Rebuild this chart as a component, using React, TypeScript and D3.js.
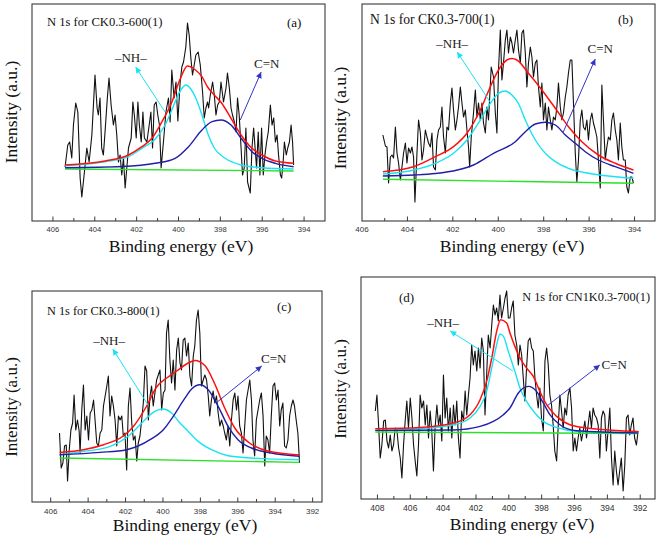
import React from 'react';
import * as d3 from 'd3';

type P = [number, number];

// ---------- Panel (a) CK0.3-600(1) ----------
const rawA: P[] = [
[405.42,54],[405.29,76],[405.20,79],[405.10,63],[405.02,96],[404.91,118],[404.81,109],[404.70,43],[404.62,24],[404.51,46],[404.38,73],[404.27,59],[404.14,86],[403.99,146],[403.89,113],[403.83,106],[403.75,123],[403.67,73],[403.59,66],[403.51,89],[403.40,123],[403.32,143],[403.22,116],[403.11,96],[403.03,106],[402.95,86],[402.87,59],[402.79,66],[402.71,46],[402.63,63],[402.55,33],[402.47,53],[402.39,73],[402.26,83],[402.18,119],[402.11,106],[402.02,83],[401.94,119],[401.87,96],[401.78,79],[401.70,109],[401.63,83],[401.51,79],[401.40,96],[401.32,109],[401.24,73],[401.16,116],[401.07,119],[400.99,106],[400.91,96],[400.83,53],[400.72,79],[400.60,109],[400.48,123],[400.40,99],[400.32,151],[400.21,123],[400.12,139],[400.03,100],[399.92,139],[399.84,154],[399.76,159],[399.65,174],[399.57,198],[399.49,186],[399.41,163],[399.33,146],[399.25,156],[399.17,166],[399.06,169],[398.96,156],[398.85,129],[398.77,103],[398.69,113],[398.61,119],[398.56,113],[398.48,126],[398.37,139],[398.29,126],[398.21,106],[398.13,116],[398.05,119],[397.97,139],[397.85,119],[397.73,133],[397.66,148],[397.57,133],[397.49,113],[397.42,106],[397.33,99],[397.25,89],[397.18,123],[397.10,106],[397.01,73],[396.94,46],[396.86,53],[396.78,93],[396.70,39],[396.57,28],[396.49,73],[396.41,93],[396.34,73],[396.27,53],[396.19,89],[396.11,46],[396.03,93],[395.95,46],[395.87,66],[395.79,79],[395.71,89],[395.61,116],[395.53,96],[395.45,103],[395.37,79],[395.29,86],[395.22,66],[395.13,46],[395.07,43],[395.00,59],[394.94,79],[394.85,66],[394.78,73],[394.70,79],[394.62,96],[394.55,79],[394.50,56]
];
const baseA: P[] = [[405.42,52],[394.5,50]];
const blueA: P[] = [[405.42,53.3],[402.71,54.5],[401.11,57.7],[400.16,62.7],[399.52,74.3],[398.88,91],[398.4,99.3],[397.97,101],[397.49,96],[397.01,82.7],[396.49,69.3],[396.01,62.7],[395.37,57.7],[394.5,54.3]];
const cyanA: P[] = [[405.42,55.3],[403.51,59.3],[402.39,64.3],[401.75,72.7],[401.11,82],[400.64,96],[400.32,111],[399.92,130],[399.65,136],[399.41,132],[399.17,122.7],[398.88,106],[398.61,88],[398.29,73],[397.77,62.7],[397.01,56],[396.01,53.3],[394.5,52]];
const redA: P[] = [[405.42,56],[403.51,60],[402.39,66],[401.75,74.3],[401.27,82.7],[400.79,99.3],[400.32,118.7],[399.92,142],[399.57,155],[399.25,152],[398.88,144.3],[398.61,134],[398.29,126],[397.97,118.7],[397.49,102.7],[397.01,86],[396.49,72.7],[396.01,66],[395.37,60],[394.5,57.7]];

// ---------- Panel (b) CK0.3-700(1) ----------
const rawB: P[] = [
[405.08,86],[404.97,75],[404.90,74],[404.83,38],[404.75,64],[404.68,66],[404.61,63],[404.53,94],[404.46,68],[404.39,58],[404.31,41],[404.24,54],[404.17,68],[404.09,78],[404.02,58],[403.95,73],[403.87,68],[403.80,74],[403.73,64],[403.67,19],[403.58,68],[403.51,101],[403.43,88],[403.36,61],[403.29,71],[403.21,91],[403.14,84],[403.07,78],[402.99,74],[402.92,88],[402.85,54],[402.77,51],[402.70,81],[402.63,91],[402.55,94],[402.48,114],[402.41,84],[402.33,68],[402.26,94],[402.19,91],[402.11,118],[402.04,133],[401.97,111],[401.89,91],[401.82,101],[401.75,114],[401.67,134],[401.60,118],[401.53,104],[401.45,111],[401.38,91],[401.31,74],[401.26,54],[401.19,84],[401.09,108],[401.01,131],[400.94,104],[400.87,118],[400.79,101],[400.72,118],[400.65,98],[400.57,88],[400.50,114],[400.43,101],[400.31,154],[400.21,144],[400.13,108],[400.06,88],[399.99,151],[399.91,191],[399.84,141],[399.77,158],[399.69,181],[399.62,191],[399.55,168],[399.47,184],[399.40,178],[399.33,168],[399.25,181],[399.18,191],[399.11,171],[399.03,158],[398.96,188],[398.89,191],[398.81,168],[398.74,134],[398.67,158],[398.59,174],[398.52,164],[398.45,144],[398.37,158],[398.30,161],[398.23,134],[398.15,114],[398.08,138],[398.01,101],[397.93,118],[397.86,91],[397.79,114],[397.71,101],[397.64,91],[397.57,104],[397.49,101],[397.42,114],[397.35,138],[397.27,114],[397.20,101],[397.13,108],[397.05,124],[396.98,134],[396.91,148],[396.83,161],[396.76,161],[396.69,118],[396.61,68],[396.54,39],[396.47,61],[396.39,101],[396.32,111],[396.25,94],[396.17,91],[396.10,101],[396.03,81],[395.95,101],[395.88,108],[395.81,98],[395.73,91],[395.66,84],[395.59,61],[395.51,33],[395.44,136],[395.37,101],[395.29,61],[395.22,74],[395.15,84],[395.07,81],[395.00,101],[394.93,108],[394.85,91],[394.78,81],[394.71,61],[394.63,98],[394.56,74],[394.49,61],[394.41,61],[394.34,34],[394.27,28],[394.19,44],[394.12,44],[394.05,38]
];
const baseB: P[] = [[405.08,41.7],[394.05,37.7]];
const blueB: P[] = [[405.08,45],[403.7,46],[402.77,47.5],[401.8,51],[401.09,56],[400.21,67.7],[399.25,79.3],[398.81,89.3],[398.37,97],[397.93,98.7],[397.49,96],[397.05,86],[396.61,77.7],[396.17,69.3],[395.59,61],[394.85,54.3],[394.05,47.7]];
const cyanB: P[] = [[405.08,47],[403.73,51],[402.77,57.7],[401.97,67.7],[401.38,81],[400.79,101],[400.35,117.7],[399.99,127.7],[399.69,130],[399.40,126],[399.1,117],[398.81,101],[398.37,81],[397.93,67.7],[397.49,59.3],[396.91,52.7],[396.03,47.7],[394.85,44.3],[394.05,42.7]];
const redB: P[] = [[405.08,49.3],[403.73,54.3],[402.77,64.3],[401.97,74.3],[401.38,87.7],[400.79,111],[400.35,134.3],[399.99,151],[399.62,161],[399.40,162.5],[399.18,161],[398.67,147.7],[398.08,131],[397.49,112.7],[396.91,94.3],[396.32,79.3],[395.59,66],[394.85,57.7],[394.05,51]];

// ---------- Panel (c) CK0.3-800(1) ----------
const rawC: P[] = [
[405.53,69],[405.44,34],[405.35,39],[405.26,56],[405.17,57],[405.10,21],[405.01,52],[404.92,72],[404.83,79],[404.75,107],[404.66,72],[404.57,82],[404.48,71],[404.43,49],[404.34,92],[404.25,117],[404.16,72],[404.07,86],[403.98,62],[403.89,89],[403.80,92],[403.71,102],[403.63,82],[403.54,59],[403.45,56],[403.36,69],[403.27,72],[403.18,96],[403.09,106],[403.00,116],[402.92,126],[402.83,86],[402.74,106],[402.65,96],[402.56,82],[402.47,56],[402.38,86],[402.29,82],[402.20,86],[402.12,66],[402.03,69],[401.94,32],[401.85,96],[401.76,114],[401.67,79],[401.58,62],[401.49,66],[401.40,41],[401.32,59],[401.23,66],[401.14,82],[401.05,99],[400.96,136],[400.87,131],[400.78,82],[400.69,106],[400.61,116],[400.52,96],[400.43,109],[400.34,122],[400.25,127],[400.16,132],[400.07,92],[399.98,109],[399.89,112],[399.81,169],[399.72,182],[399.63,142],[399.54,119],[399.45,142],[399.36,112],[399.27,152],[399.18,164],[399.09,139],[399.01,132],[398.92,162],[398.83,164],[398.74,146],[398.65,159],[398.56,126],[398.47,116],[398.38,146],[398.30,156],[398.21,182],[398.12,192],[398.03,169],[397.94,116],[397.85,122],[397.76,127],[397.67,122],[397.58,106],[397.50,86],[397.41,102],[397.32,111],[397.23,99],[397.14,106],[397.05,89],[396.96,76],[396.87,82],[396.78,76],[396.70,69],[396.61,62],[396.52,76],[396.43,56],[396.34,82],[396.25,102],[396.16,109],[396.07,92],[395.99,106],[395.90,76],[395.81,69],[395.72,49],[395.63,76],[395.54,102],[395.45,112],[395.36,122],[395.27,102],[395.19,62],[395.10,46],[395.01,82],[394.92,92],[394.83,102],[394.74,109],[394.65,86],[394.56,36],[394.48,66],[394.39,62],[394.30,49],[394.21,86],[394.12,116],[394.03,119],[393.94,102],[393.85,112],[393.76,76],[393.68,92],[393.59,99],[393.50,56],[393.41,54],[393.32,62],[393.23,86],[393.14,96],[393.05,102],[392.97,96],[392.88,82],[392.79,69],[392.70,39]
];
const baseC: P[] = [[405.53,44],[392.70,39.6]];
const blueC: P[] = [[405.53,47.3],[403.36,49.6],[401.94,52.3],[400.69,62.3],[399.98,72.3],[399.45,85.7],[398.88,102.3],[398.47,113],[398.03,117.3],[397.58,112.3],[397.05,95.7],[396.52,75.7],[395.99,62.3],[395.27,54],[394.21,49],[392.70,45.7]];
const cyanC: P[] = [[405.53,47.3],[404.25,50.6],[402.83,55.7],[401.76,67.3],[401.05,80.6],[400.52,89.6],[400.0,93],[399.54,89],[399.09,79],[398.65,70.6],[398.12,60.6],[397.41,52.3],[396.52,46.3],[395.27,44],[392.70,42.3]];
const redC: P[] = [[405.53,49.6],[404.25,52.3],[403.18,57.3],[402.12,66],[401.58,75.6],[400.87,96],[400.34,115],[399.80,124],[399.27,131],[398.74,138],[398.30,141.6],[397.76,136.5],[397.23,118],[396.70,94],[396.16,74],[395.45,60],[394.39,51],[392.70,47]];

// ---------- Panel (d) CN1K0.3-700(1) ----------
const rawD: P[] = [
[408.13,88],[408.03,104],[407.93,74],[407.83,41],[407.73,54],[407.62,78],[407.52,79],[407.42,58],[407.32,51],[407.22,64],[407.12,48],[407.02,54],[406.92,71],[406.81,68],[406.71,51],[406.61,41],[406.51,21],[406.41,54],[406.31,78],[406.21,98],[406.11,71],[406.00,101],[405.90,81],[405.80,54],[405.70,38],[405.60,23],[405.50,54],[405.40,104],[405.30,91],[405.19,98],[405.09,74],[404.99,94],[404.89,61],[404.79,88],[404.69,68],[404.59,28],[404.49,71],[404.38,94],[404.28,74],[404.18,84],[404.08,58],[403.98,124],[403.88,81],[403.78,101],[403.68,68],[403.57,91],[403.47,61],[403.37,94],[403.27,74],[403.17,98],[403.07,61],[402.97,41],[402.87,88],[402.76,78],[402.66,108],[402.56,84],[402.46,104],[402.36,121],[402.26,154],[402.16,134],[402.06,148],[401.95,128],[401.85,151],[401.75,131],[401.65,161],[401.55,148],[401.45,84],[401.35,124],[401.25,164],[401.14,151],[401.04,174],[400.94,194],[400.84,184],[400.74,191],[400.64,178],[400.54,204],[400.44,181],[400.33,191],[400.23,201],[400.13,208],[400.03,181],[399.93,181],[399.83,191],[399.73,198],[399.63,164],[399.52,154],[399.42,134],[399.32,154],[399.22,144],[399.12,121],[399.02,98],[398.92,131],[398.82,158],[398.71,161],[398.61,151],[398.51,148],[398.41,121],[398.31,104],[398.21,91],[398.11,111],[398.01,81],[397.90,68],[397.80,138],[397.70,151],[397.60,134],[397.50,104],[397.40,94],[397.30,74],[397.20,48],[397.09,38],[396.99,74],[396.89,104],[396.79,88],[396.69,71],[396.59,91],[396.49,84],[396.39,104],[396.28,111],[396.18,91],[396.08,48],[395.98,61],[395.88,48],[395.78,61],[395.68,71],[395.58,58],[395.47,68],[395.37,78],[395.27,61],[395.17,74],[395.07,88],[394.97,71],[394.87,91],[394.77,84],[394.66,81],[394.56,74],[394.46,41],[394.36,81],[394.26,88],[394.16,84],[394.06,48],[393.96,68],[393.85,91],[393.75,41],[393.65,14],[393.55,48],[393.45,28],[393.35,14],[393.25,28],[393.15,41],[393.04,8],[392.94,34],[392.84,81],[392.74,84],[392.64,64],[392.54,74],[392.44,81],[392.34,61],[392.23,54],[392.13,68]
];
const baseD: P[] = [[408.13,67],[392.13,65.5]];
const blueD: P[] = [[408.13,68.6],[403.37,69],[401.75,72.6],[400.94,77.6],[400.33,84.3],[399.93,91],[399.42,106],[398.82,112.6],[398.31,107.6],[397.90,96],[397.50,84.3],[396.89,74.3],[395.88,68.3],[392.13,66]];
const cyanD: P[] = [[408.13,68.6],[405.40,70.3],[403.37,74.3],[402.36,81],[401.75,92.6],[401.35,107.6],[401.04,131],[400.74,154.3],[400.54,165],[400.33,162.6],[400.03,147.6],[399.63,127.6],[399.32,111],[398.92,97.6],[398.41,86],[397.90,77.6],[397.09,71.6],[395.88,67.6],[392.13,66]];
const redD: P[] = [[408.13,70.3],[405.40,71.6],[403.37,76],[402.36,84.3],[401.75,99.3],[401.35,117.6],[401.04,141],[400.74,167.6],[400.50,179.3],[400.13,176],[399.93,166],[399.63,152.6],[399.32,141],[398.92,131],[398.51,122.6],[398.11,107.6],[397.70,94.3],[397.09,82.6],[396.28,74.3],[394.87,70.3],[392.13,67.6]];

// annotation anchors in data units: [tail, head, label]
const nhArrowA: P[] = [[400.64,109],[402.05,154],[402.28,159]];
const cnArrowA: P[] = [[397.05,101],[396.05,149],[395.78,153]];
const nhArrowB: P[] = [[400.36,119],[401.81,169],[402.03,173]];
const cnArrowB: P[] = [[397.14,89],[395.73,162],[395.51,168]];
const nhArrowC: P[] = [[400.80,97],[402.68,153],[402.88,157]];
const cnArrowC: P[] = [[397.10,100],[394.72,136],[394.08,139]];
const nhArrowD: P[] = [[399.75,128],[403.57,168],[404.0,172]];
const cnArrowD: P[] = [[397.68,93],[394.46,134],[394.36,130]];

const titles = ['N 1s for CK0.3-600(1)', 'N 1s for CK0.3-700(1)', 'N 1s for CK0.3-800(1)', 'N 1s for CN1K0.3-700(1)'];
const letters = ['(a)', '(b)', '(c)', '(d)'];
const xTitle = 'Binding energy (eV)';
const yTitle = 'Intensity (a.u.)';
const nhLabel = '\u2013NH\u2013';
const cnLabel = 'C=N';

const COL = { data: '#111', red: '#ff1010', cyan: '#19e3f2', blue: '#1f1fa8', green: '#2ae02a', arrowBlue: '#3434c4' };

interface PanelCfg {
  l: number; r: number; t: number; b: number;
  dom: [number, number];
  labelTicks: [number, number];
  tickFs: number; tickY: number;
  raw: P[]; base: P[]; blue: P[]; cyan: P[]; red: P[];
  nh: P[]; cn: P[];
  title: string; titleX: number; titleY: number; titleFs: number; titleAnchor: string;
  letter: string; letterX: number; letterY: number;
  xtX: number; xtY: number; ytX: number; ytY: number; ytFs: number;
  cnAnchor: string;
}

const panels: PanelCfg[] = [
  { l: 32, r: 325, t: 4, b: 221, dom: [407, 393], labelTicks: [394, 406], tickFs: 7.6, tickY: 232,
    raw: rawA, base: baseA, blue: blueA, cyan: cyanA, red: redA, nh: nhArrowA, cn: cnArrowA,
    title: titles[0], titleX: 47, titleY: 26, titleFs: 12.6, titleAnchor: 'start',
    letter: letters[0], letterX: 287, letterY: 27, xtX: 181, xtY: 252, ytX: 17, ytY: 112, ytFs: 17.5, cnAnchor: 'middle' },
  { l: 362, r: 655, t: 4, b: 221, dom: [406, 393.1], labelTicks: [394, 406], tickFs: 8, tickY: 232,
    raw: rawB, base: baseB, blue: blueB, cyan: cyanB, red: redB, nh: nhArrowB, cn: cnArrowB,
    title: titles[1], titleX: 370, titleY: 24, titleFs: 13.6, titleAnchor: 'start',
    letter: letters[1], letterX: 618, letterY: 24, xtX: 512, xtY: 252, ytX: 346, ytY: 118, ytFs: 17.5, cnAnchor: 'middle' },
  { l: 32, r: 322, t: 291, b: 502, dom: [407, 391.5], labelTicks: [392, 406], tickFs: 8, tickY: 514,
    raw: rawC, base: baseC, blue: blueC, cyan: cyanC, red: redC, nh: nhArrowC, cn: cnArrowC,
    title: titles[2], titleX: 47, titleY: 315, titleFs: 12.3, titleAnchor: 'start',
    letter: letters[2], letterX: 277, letterY: 311, xtX: 185, xtY: 531, ytX: 17, ytY: 407, ytFs: 17, cnAnchor: 'middle' },
  { l: 361, r: 655, t: 277, b: 499, dom: [409, 391.1], labelTicks: [392, 408], tickFs: 8.6, tickY: 511,
    raw: rawD, base: baseD, blue: blueD, cyan: cyanD, red: redD, nh: nhArrowD, cn: cnArrowD,
    title: titles[3], titleX: 650, titleY: 301, titleFs: 12.3, titleAnchor: 'end',
    letter: letters[3], letterX: 399, letterY: 302, xtX: 522, xtY: 530, ytX: 346, ytY: 389, ytFs: 17, cnAnchor: 'start' },
];

const serif: React.CSSProperties = { fontFamily: "'Liberation Serif', 'Times New Roman', serif" };
const sans: React.CSSProperties = { fontFamily: "'Liberation Sans', Arial, sans-serif" };

function Panel({ p }: { p: PanelCfg }) {
  const x = d3.scaleLinear().domain(p.dom).range([p.l, p.r]);
  const y = d3.scaleLinear().domain([0, p.b - p.t]).range([p.b, p.t]);
  const rawLine = d3.line<P>().x(d => x(d[0])).y(d => y(d[1]));
  const fitLine = d3.line<P>().x(d => x(d[0])).y(d => y(d[1])).curve(d3.curveMonotoneX);
  const lo = Math.min(p.dom[0], p.dom[1]);
  const hi = Math.max(p.dom[0], p.dom[1]);
  const ticks = d3.range(Math.ceil(lo), Math.floor(hi) + 1).filter(v => v > lo + 0.05 && v < hi - 0.05);
  const labels = d3.range(p.labelTicks[0], p.labelTicks[1] + 1, 2);
  return (
    <g>
      <rect x={p.l} y={p.t} width={p.r - p.l} height={p.b - p.t} fill="none" stroke="#3a3a3a" strokeWidth={1.1} />
      {ticks.map(v => {
        const major = labels.includes(v);
        return <line key={v} x1={x(v)} x2={x(v)} y1={p.b} y2={p.b - (major ? 4.5 : 3)} stroke="#3a3a3a" strokeWidth={1} />;
      })}
      {labels.map(v => (
        <text key={'l' + v} x={x(v)} y={p.tickY} style={sans} fontSize={p.tickFs} textAnchor="middle" fill="#333">{v}</text>
      ))}
      <path d={rawLine(p.raw) || ''} fill="none" stroke={COL.data} strokeWidth={1.1} strokeLinejoin="round" />
      <path d={fitLine(p.base) || ''} fill="none" stroke={COL.green} strokeWidth={1.4} />
      <path d={fitLine(p.cyan) || ''} fill="none" stroke={COL.cyan} strokeWidth={1.4} />
      <path d={fitLine(p.blue) || ''} fill="none" stroke={COL.blue} strokeWidth={1.4} />
      <path d={fitLine(p.red) || ''} fill="none" stroke={COL.red} strokeWidth={1.5} />
      <line x1={x(p.nh[0][0])} y1={y(p.nh[0][1])} x2={x(p.nh[1][0])} y2={y(p.nh[1][1])}
        stroke={COL.cyan} strokeWidth={1} markerEnd="url(#headCyan)" />
      <line x1={x(p.cn[0][0])} y1={y(p.cn[0][1])} x2={x(p.cn[1][0])} y2={y(p.cn[1][1])}
        stroke={COL.arrowBlue} strokeWidth={1} markerEnd="url(#headBlue)" />
      <text x={x(p.nh[2][0])} y={y(p.nh[2][1])} style={serif} fontSize={13} textAnchor="middle" fill="#222">{nhLabel}</text>
      <text x={x(p.cn[2][0])} y={y(p.cn[2][1])} style={serif} fontSize={13} textAnchor={p.cnAnchor === 'start' ? 'start' : 'middle'} fill="#222">{cnLabel}</text>
      <text x={p.titleX} y={p.titleY} style={serif} fontSize={p.titleFs} textAnchor={p.titleAnchor as any} fill="#111">{p.title}</text>
      <text x={p.letterX} y={p.letterY} style={serif} fontSize={13} fill="#111">{p.letter}</text>
      <text x={p.xtX} y={p.xtY} style={serif} fontSize={17.5} textAnchor="middle" fill="#111">{xTitle}</text>
      <text transform={`translate(${p.ytX},${p.ytY}) rotate(-90)`} style={serif} fontSize={p.ytFs} textAnchor="middle" fill="#111">{yTitle}</text>
    </g>
  );
}

export default function App() {
  return (
    <svg width={661} height={540} style={{ position: 'absolute', left: 0, top: 0, background: '#fff' }}>
      <defs>
        <marker id="headCyan" viewBox="0 0 10 10" refX={10} refY={5} markerWidth={7} markerHeight={6}
          markerUnits="userSpaceOnUse" orient="auto">
          <path d="M0,0 L10,5 L0,10 z" fill={COL.cyan} />
        </marker>
        <marker id="headBlue" viewBox="0 0 10 10" refX={10} refY={5} markerWidth={7} markerHeight={6}
          markerUnits="userSpaceOnUse" orient="auto">
          <path d="M0,0 L10,5 L0,10 z" fill={COL.arrowBlue} />
        </marker>
      </defs>
      <rect x={0} y={0} width={661} height={540} fill="#fff" />
      {panels.map((p, i) => <Panel key={i} p={p} />)}
    </svg>
  );
}
